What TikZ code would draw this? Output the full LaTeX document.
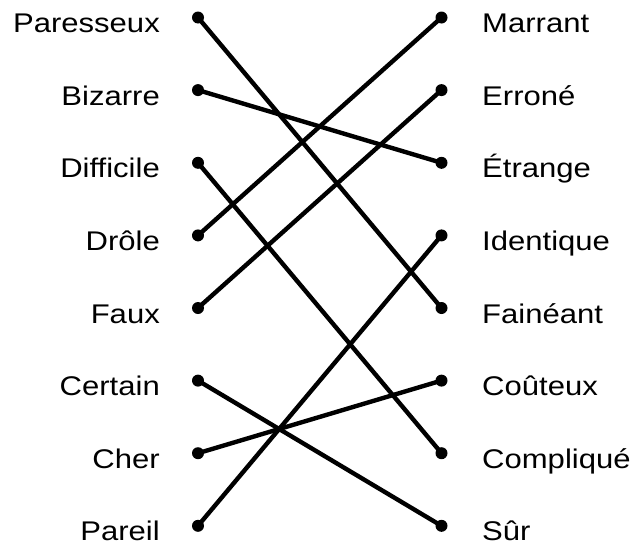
\documentclass[tikz,border=0pt]{standalone}
\usepackage{fontspec}
\setmainfont{Liberation Sans}[FakeStretch=1.15]
\begin{document}
\begin{tikzpicture}[x=1pt,y=-1pt,
  lbl/.style={font=\fontsize{27}{30}\selectfont, inner sep=0pt},
  ldot/.style={circle, fill=black, inner sep=0pt, minimum size=12pt},
  link/.style={line width=4.4pt, black}]
\useasboundingbox (0,0) rectangle (633,544);
\foreach \i/\y in {1/17.5,2/90.1,3/162.8,4/235.4,5/308,6/380.6,7/453.2,8/525.8}{
  \node[ldot] (L\i) at (198,\y) {};
  \node[ldot] (R\i) at (441.5,\y) {};
  \coordinate (LT\i) at (160,\y+15);
  \coordinate (RT\i) at (482,\y+15);
}
\node[lbl, anchor=base east] (t1) at (LT1) {Paresseux};
\node[lbl, anchor=base east] (t2) at (LT2) {Bizarre};
\node[lbl, anchor=base east] (t3) at (LT3) {Difficile};
\node[lbl, anchor=base east] (t4) at (LT4) {Drôle};
\node[lbl, anchor=base east] (t5) at (LT5) {Faux};
\node[lbl, anchor=base east] (t6) at (LT6) {Certain};
\node[lbl, anchor=base east] (t7) at (LT7) {Cher};
\node[lbl, anchor=base east] (t8) at (LT8) {Pareil};
\node[lbl, anchor=base west] (u1) at (RT1) {Marrant};
\node[lbl, anchor=base west] (u2) at (RT2) {Erroné};
\node[lbl, anchor=base west] (u3) at (RT3) {Étrange};
\node[lbl, anchor=base west] (u4) at (RT4) {Identique};
\node[lbl, anchor=base west] (u5) at (RT5) {Fainéant};
\node[lbl, anchor=base west] (u6) at (RT6) {Coûteux};
\node[lbl, anchor=base west] (u7) at (RT7) {Compliqué};
\node[lbl, anchor=base west] (u8) at (RT8) {Sûr};
\draw[link] (L1.center) -- (R5.center);
\draw[link] (L2.center) -- (R3.center);
\draw[link] (L3.center) -- (R7.center);
\draw[link] (L4.center) -- (R1.center);
\draw[link] (L5.center) -- (R2.center);
\draw[link] (L6.center) -- (R8.center);
\draw[link] (L7.center) -- (R6.center);
\draw[link] (L8.center) -- (R4.center);
\end{tikzpicture}
\end{document}
